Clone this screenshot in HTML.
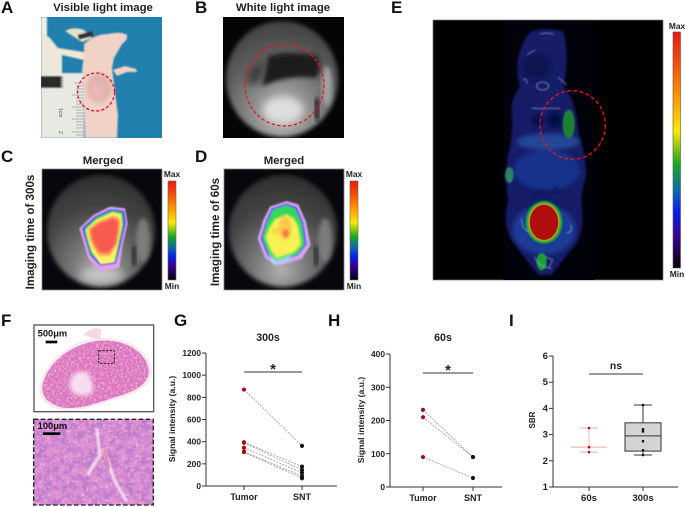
<!DOCTYPE html>
<html lang="en">
<head>
<meta charset="utf-8">
<title>Multi-panel imaging figure</title>
<style>
html,body{margin:0;padding:0;background:#fff;width:685px;height:507px;overflow:hidden}
svg{display:block;font-family:"Liberation Sans",sans-serif;filter:blur(.3px)}
.ltr{font-size:17px;font-weight:bold;fill:#111}
.ttl{font-size:11.4px;font-weight:bold;fill:#222;text-anchor:middle}
.rot{font-size:11.6px;font-weight:bold;fill:#222;text-anchor:middle}
.cb{font-size:8.4px;font-weight:bold;fill:#222;text-anchor:middle}
.scale{font-size:8.6px;font-weight:bold;fill:#111}
.tick{font-size:8px;font-weight:bold;fill:#222}
</style>
</head>
<body>
<svg id="figure" xmlns="http://www.w3.org/2000/svg" width="685" height="507" viewBox="0 0 685 507">
<defs>
  <filter id="b1" x="-10%" y="-10%" width="120%" height="120%"><feGaussianBlur stdDeviation="0.7"/></filter>
  <filter id="b2" x="-20%" y="-20%" width="140%" height="140%"><feGaussianBlur stdDeviation="2"/></filter>
  <filter id="b3" x="-30%" y="-30%" width="160%" height="160%"><feGaussianBlur stdDeviation="4"/></filter>
  <filter id="b4" x="-30%" y="-30%" width="160%" height="160%"><feGaussianBlur stdDeviation="6"/></filter>
  <linearGradient id="cbar" x1="0" y1="0" x2="0" y2="1">
    <stop offset="0" stop-color="#e81a10"/><stop offset=".12" stop-color="#f24a08"/>
    <stop offset=".28" stop-color="#ff9a00"/><stop offset=".42" stop-color="#ffe800"/>
    <stop offset=".56" stop-color="#18a820"/><stop offset=".67" stop-color="#0a6ca8"/>
    <stop offset=".76" stop-color="#0820f0"/><stop offset=".86" stop-color="#3a0090"/>
    <stop offset="1" stop-color="#040006"/>
  </linearGradient>
  <radialGradient id="disc" cx=".5" cy=".8" r=".85">
    <stop offset="0" stop-color="#c4c4c4"/><stop offset=".3" stop-color="#8e8e8e"/>
    <stop offset=".65" stop-color="#5a5a5a"/><stop offset="1" stop-color="#3c3c3c"/>
  </radialGradient>
  <radialGradient id="disc2" cx=".48" cy=".85" r=".85">
    <stop offset="0" stop-color="#b0b0b0"/><stop offset=".3" stop-color="#777"/>
    <stop offset=".65" stop-color="#454545"/><stop offset="1" stop-color="#2e2e2e"/>
  </radialGradient>
  <filter id="texture" x="0" y="0" width="100%" height="100%">
    <feTurbulence type="fractalNoise" baseFrequency="0.045" numOctaves="3" seed="7"/>
    <feColorMatrix values="0 0 0 0 .52  0 0 0 0 .2  0 0 0 0 .6  3.4 0 0 0 -1.25"/>
    <feGaussianBlur stdDeviation="1"/>
  </filter>
  <filter id="fine" x="0" y="0" width="100%" height="100%">
    <feTurbulence type="fractalNoise" baseFrequency="0.16" numOctaves="2" seed="3"/>
    <feColorMatrix values="0 0 0 0 .98  0 0 0 0 .86  0 0 0 0 .95  1.6 0 0 0 -.72"/>
  </filter>
  <filter id="fine2" x="0" y="0" width="100%" height="100%">
    <feTurbulence type="fractalNoise" baseFrequency="0.12" numOctaves="2" seed="11"/>
    <feColorMatrix values="0 0 0 0 .98  0 0 0 0 .86  0 0 0 0 .95  1.5 0 0 0 -.8"/>
  </filter>
  <clipPath id="clipA"><rect x="41" y="17" width="121" height="121"/></clipPath>
  <clipPath id="clipF1"><rect x="102" y="61" width="358" height="258"/></clipPath>
  <clipPath id="clipF2"><rect x="101" y="343" width="359" height="257"/></clipPath>
  <clipPath id="tissue"><path d="M130 230C150 170 210 120 290 108C370 98 440 140 446 195C448 240 400 262 340 278C280 300 210 322 165 300C130 285 122 260 130 230Z"/></clipPath>
</defs>

<!-- panel letters -->
<g>
  <text class="ltr" x="1" y="13">A</text>
  <text class="ltr" x="195" y="13">B</text>
  <text class="ltr" x="391" y="13">E</text>
  <text class="ltr" x="1" y="162">C</text>
  <text class="ltr" x="195" y="162">D</text>
  <text class="ltr" x="1" y="326">F</text>
  <text class="ltr" x="174" y="326">G</text>
  <text class="ltr" x="328" y="326">H</text>
  <text class="ltr" x="509" y="326">I</text>
</g>

<!-- titles -->
<text class="ttl" x="103" y="11">Visible light image</text>
<text class="ttl" x="283" y="11">White light image</text>
<text class="ttl" x="103" y="164">Merged</text>
<text class="ttl" x="284" y="164">Merged</text>
<text class="rot" transform="translate(34 232) rotate(-90)">Imaging time of 300s</text>
<text class="rot" transform="translate(219 232) rotate(-90)">Imaging time of 60s</text>

<!-- Panel A -->
<g clip-path="url(#clipA)">
  <rect x="41" y="17" width="121" height="121" fill="#2180ae"/>
  <g filter="url(#b1)">
    <rect x="41" y="17" width="6" height="60" fill="#f2efe6"/>
    <path d="M41 32L50 38L58 48L84 52L84 60L62 55L62 74L41 74Z" fill="#eee8d8"/>
    <path d="M65 31Q74 26 84 30L92 38L82 42Z" fill="#e8dfc8"/>
    <rect x="78" y="33" width="15" height="5" fill="#333" transform="rotate(-14 85 35)"/>
    <rect x="41" y="73" width="43" height="65" fill="#e9e9e4"/>
    <rect x="41" y="76" width="21" height="12" fill="#2a2a2a"/>
    <rect x="61" y="76" width="2" height="12" fill="#999"/>
    <path d="M84 44Q95 34 108 34Q120 31 127 35Q128 40 122 44L114 58L112 68L116 100L118 115L117 138L85 138L84 100L82 70L84 55Z" fill="#f0d3c6"/>
    <path d="M113 70L125 66L136 69L137 72L127 72L117 76Z" fill="#f0d3c6"/>
  </g>
  <ellipse cx="99" cy="88" rx="13" ry="15" fill="#e2b4ae" filter="url(#b2)"/>
  <ellipse cx="97" cy="90" rx="5" ry="6" fill="#ecb8bc" filter="url(#b2)"/>
  <g stroke="#777" stroke-width=".6">
    <path d="M74 83H84M76 86H84M76 89H84M76 92H84M72 95H84M76 98H84M76 101H84M76 104H84M72 107H84M76 110H84M76 113H84M76 116H84M72 119H84M76 122H84M76 125H84M76 128H84M72 132H84M76 135H84"/>
  </g>
  <text x="0" y="0" transform="translate(59 108) rotate(90)" font-size="5" fill="#555">1cm</text>
  <text x="0" y="0" transform="translate(59 131) rotate(90)" font-size="5" fill="#555">2</text>
  <ellipse cx="96" cy="92" rx="18.5" ry="19" fill="none" stroke="#e9141c" stroke-width="1.3" stroke-dasharray="3.2 2"/>
</g>

<!-- Panel B -->
<g>
  <rect x="223" y="17" width="121" height="121" fill="#050505"/>
  <ellipse cx="282" cy="79" rx="56" ry="58" fill="url(#disc)" filter="url(#b2)"/>
  <path d="M268 56Q290 50 318 56L320 70L316 78Q290 74 262 86Z" fill="#1a1a1a" filter="url(#b2)"/>
  <path d="M248 72Q256 62 266 58L260 84Q252 82 246 84Z" fill="#3c3c3c" filter="url(#b3)"/>
  <ellipse cx="283" cy="110" rx="20" ry="13" fill="#dedede" filter="url(#b3)"/>
  <ellipse cx="327" cy="86" rx="5" ry="20" fill="#a2a2a2" filter="url(#b2)"/>
  <rect x="315" y="98" width="4" height="22" fill="#151515" filter="url(#b2)"/>
  <ellipse cx="284.5" cy="85" rx="39.5" ry="41" fill="none" stroke="#e9141c" stroke-width="1.3" stroke-dasharray="3.4 2.2"/>
</g>

<!-- Panel C -->
<g>
  <rect x="42" y="169" width="120" height="121" fill="#08080c" stroke="#888" stroke-width=".8"/>
  <ellipse cx="101" cy="231" rx="54" ry="56" fill="url(#disc2)" filter="url(#b2)"/>
  <ellipse cx="143" cy="240" rx="7" ry="22" fill="#7c7c7c" filter="url(#b2)"/>
  <rect x="132" y="246" width="4" height="20" fill="#262626" filter="url(#b2)"/>
  <ellipse cx="102" cy="275" rx="22" ry="8" fill="#d0d0d0" opacity=".7" filter="url(#b3)"/>
  <g transform="translate(0 145) scale(.3333)">
    <g filter="url(#b2)">
      <path d="M330 185L375 190L383 235L368 300L358 368L300 378L265 340L250 290L238 250L280 210Z" fill="#e2a0f0"/>
      <path d="M332 192L372 197L378 235L362 300L348 356L300 362L270 330L256 285L246 250L284 215Z" fill="#4038ec"/>
      <path d="M335 196L367 201L372 238L358 298L346 352L302 356L272 325L260 285L252 252L288 218Z" fill="#30d060"/>
      <path d="M338 202L363 208L366 240L354 298L342 352L302 358L276 320L264 283L258 254L290 224Z" fill="#fff26a"/>
    </g>
    <path d="M340 212L358 220L360 245L350 296L330 332L298 332L280 305L270 280L266 252L294 230Z" fill="#ff9a4a" filter="url(#b3)"/>
    <path d="M340 220L354 230L354 250L346 296L326 322L300 322L285 298L276 278L274 254L298 236Z" fill="#f95a50" filter="url(#b3)"/>
  </g>
</g>
<g>
  <rect x="168" y="181" width="8" height="99" fill="url(#cbar)" stroke="#666" stroke-width=".6"/>
  <text class="cb" x="172" y="177">Max</text>
  <text class="cb" x="172" y="289">Min</text>
</g>

<!-- Panel D -->
<g>
  <rect x="224" y="169" width="120" height="121" fill="#08080c" stroke="#888" stroke-width=".8"/>
  <ellipse cx="283" cy="231" rx="54" ry="56" fill="url(#disc2)" filter="url(#b2)"/>
  <ellipse cx="325" cy="240" rx="7" ry="22" fill="#7c7c7c" filter="url(#b2)"/>
  <rect x="314" y="246" width="4" height="20" fill="#262626" filter="url(#b2)"/>
  <g transform="translate(0 145) scale(.3333)">
    <g filter="url(#b2)">
      <path d="M810 185L860 168L895 178L918 230L932 300L905 342L830 364L795 338L773 280L790 225Z" fill="#d4a0f2"/>
      <path d="M815 190L860 176L890 186L910 232L920 298L895 330L830 352L802 330L782 280L798 228Z" fill="#5a50f0"/>
      <path d="M820 193L860 181L885 190L905 234L914 298L892 328L830 348L806 326L788 278L802 230Z" fill="#30d858"/>
    </g>
    <path d="M825 222L860 208L882 220L895 245L904 298L884 322L830 340L812 318L796 276L810 245Z" fill="#f8f254" filter="url(#b3)"/>
    <path d="M802 322L830 344L880 328L860 350L820 358Z" fill="#a8f0e8" opacity=".75" filter="url(#b3)"/>
    <ellipse cx="855" cy="250" rx="20" ry="35" fill="#f8b848" opacity=".7" filter="url(#b3)"/>
    <ellipse cx="857" cy="265" rx="9" ry="12" fill="#f0683a" opacity=".85" filter="url(#b3)"/>
    <ellipse cx="825" cy="258" rx="10" ry="10" fill="#f8c040" opacity=".6" filter="url(#b3)"/>
  </g>
</g>
<g>
  <rect x="350" y="181" width="8" height="99" fill="url(#cbar)" stroke="#666" stroke-width=".6"/>
  <text class="cb" x="354" y="177">Max</text>
  <text class="cb" x="354" y="289">Min</text>
</g>

<!-- Panel E -->
<g>
  <rect x="433" y="20" width="230" height="260" fill="#000" stroke="#777" stroke-width=".7"/>
  <g transform="translate(420 0) scale(.3333)">
    <rect x="250" y="62" width="272" height="778" fill="#01020a"/>
    <path d="M330 95Q380 80 430 95Q450 170 430 260Q470 300 475 400Q500 470 498 530Q480 590 485 620Q495 680 470 730Q420 790 395 825L355 825Q310 770 275 720Q245 670 265 600Q250 520 270 440Q280 380 275 340Q270 300 300 260Q275 170 330 95Z" fill="#121f68" filter="url(#b3)"/>
    <g filter="url(#b4)">
      <ellipse cx="385" cy="425" rx="95" ry="24" fill="#264f9e" opacity=".85"/>
      <ellipse cx="380" cy="510" rx="100" ry="60" fill="#18318a"/>
      <ellipse cx="372" cy="690" rx="95" ry="75" fill="#1c3a94"/>
      <ellipse cx="352" cy="360" rx="14" ry="18" fill="#050a40"/>
      <ellipse cx="405" cy="360" rx="20" ry="22" fill="#050a40"/>
      <ellipse cx="358" cy="577" rx="18" ry="12" fill="#081258"/>
      <ellipse cx="408" cy="568" rx="14" ry="7" fill="#081258"/>
      <ellipse cx="350" cy="200" rx="45" ry="40" fill="#0d1850"/>
    </g>
    <g filter="url(#b2)">
      <ellipse cx="446" cy="372" rx="18" ry="44" fill="#1a8034"/>
      <ellipse cx="268" cy="525" rx="13" ry="24" fill="#2a8068"/>
      <ellipse cx="365" cy="785" rx="15" ry="26" fill="#1c9c36"/>
      <ellipse cx="372" cy="667" rx="55" ry="64" fill="#1eaa3c"/>
    </g>
    <ellipse cx="372" cy="667" rx="47" ry="57" fill="#c8b018" filter="url(#b2)"/>
    <ellipse cx="372" cy="667" rx="43" ry="53" fill="#b01010" filter="url(#b1)"/>
    <g fill="none" stroke="#a8c8f0" stroke-width="3" opacity=".6" filter="url(#b2)">
      <path d="M360 103Q380 95 400 103"/>
      <ellipse cx="368" cy="258" rx="18" ry="12"/>
      <path d="M310 240Q318 230 322 252M415 232L440 255"/>
      <path d="M305 655Q305 690 328 695M452 675Q460 695 440 700"/>
      <path d="M375 770L398 780L385 805M345 770Q350 800 395 805"/>
      <path d="M320 165L345 150M335 325H420"/>
    </g>
    <ellipse cx="458" cy="375" rx="98" ry="103" fill="none" stroke="#e9141c" stroke-width="4" stroke-dasharray="12 7"/>
  </g>
</g>
<g>
  <rect x="673" y="32" width="7.5" height="236" fill="url(#cbar)" stroke="#555" stroke-width=".6"/>
  <text class="cb" x="677" y="29">Max</text>
  <text class="cb" x="677" y="277">Min</text>
</g>

<!-- Panel F -->
<g transform="translate(0 305) scale(.3333)">
  <g>
    <rect x="102" y="60" width="359" height="260" fill="#fff" stroke="#555" stroke-width="4"/>
    <g clip-path="url(#clipF1)">
      <path d="M120 235C140 165 205 112 285 100C375 88 450 135 456 195C458 245 405 268 345 285C285 306 205 330 160 308C125 292 112 265 120 235Z" fill="#f8e8f0"/>
      <path d="M250 90Q280 60 305 75L300 105Z" fill="#f4d8e6"/>
      <path d="M130 230C150 170 210 120 290 108C370 98 440 140 446 195C448 240 400 262 340 278C280 300 210 322 165 300C130 285 122 260 130 230Z" fill="#dc74bc"/>
      <g clip-path="url(#tissue)"><rect x="102" y="60" width="359" height="260" filter="url(#fine)"/></g>
      <path d="M215 215Q235 190 265 205Q285 240 275 265Q240 280 215 260Q205 240 215 215Z" fill="#f7dff0" filter="url(#b4)"/>
      <rect x="296" y="137" width="47" height="38" fill="none" stroke="#222" stroke-width="3" stroke-dasharray="7 4"/>
    </g>
    <text class="scale" style="font-size:28px" x="113" y="95">500μm</text>
    <rect x="137" y="107" width="35" height="8" fill="#000"/>
  </g>
  <g>
    <rect x="101" y="343" width="359" height="257" fill="#e090d2"/>
    <g clip-path="url(#clipF2)">
      <rect x="101" y="343" width="359" height="257" filter="url(#texture)"/>
      <rect x="101" y="343" width="359" height="257" filter="url(#fine2)"/>
      <path d="M290 370L300 450L262 510M310 430L345 530L380 590" stroke="#f6e2f0" stroke-width="10" fill="none" opacity=".85" filter="url(#b2)"/>
      <path d="M312 432L328 490" stroke="#e56a9c" stroke-width="7" opacity=".85" filter="url(#b2)"/>
    </g>
    <rect x="101" y="343" width="359" height="257" fill="none" stroke="#222" stroke-width="4" stroke-dasharray="14 7"/>
    <text class="scale" style="font-size:28px" x="113" y="372">100μm</text>
    <rect x="129" y="382" width="52" height="8" fill="#000"/>
  </g>
</g>

<g id="chart-g"></g>
<g id="chart-h"></g>
<g id="chart-i"></g>
</svg>

<script>
// Panel G
var gCategories = ['Tumor', 'SNT'];
var gTumor = [870, 395, 390, 345, 310, 305];
var gSnt = [362, 175, 145, 120, 90, 70];
var gTicks = [0, 200, 400, 600, 800, 1000, 1200];
// Panel H
var hCategories = ['Tumor', 'SNT'];
var hTumor = [232, 210, 90];
var hSnt = [90, 90, 27];
var hTicks = [0, 100, 200, 300, 400];
// Panel I
var iCategories = ['60s', '300s'];
var iTicks = [1, 2, 3, 4, 5, 6];
var i60s = [3.25, 2.52, 2.33];
var i60sSummary = [2.33, 2.52, 3.25];
var i300s = [4.13, 3.2, 3.12, 2.75, 2.4, 2.22];
var i300sBox = [2.22, 2.37, 2.95, 3.45, 4.13];

var NS = 'http://www.w3.org/2000/svg';
function add(parent, tag, attrs, text) {
  var n = document.createElementNS(NS, tag);
  for (var k in attrs) { n.setAttribute(k, attrs[k]); }
  if (text !== undefined) { n.textContent = text; }
  parent.appendChild(n);
  return n;
}
function linear(d0, d1, r0, r1) {
  return function (v) { return r0 + (v - d0) * (r1 - r0) / (d1 - d0); };
}
function drawAxes(g, cfg) {
  var yAxis = add(g, 'line', {x1: cfg.x0, x2: cfg.x0, y1: cfg.y1, y2: cfg.y0, stroke: '#333', 'stroke-width': 1});
  
  
  var xAxis = add(g, 'line', {x1: cfg.x0 - 4, x2: cfg.xEnd, y1: cfg.y0, y2: cfg.y0, stroke: '#333', 'stroke-width': 1});
  
  
  cfg.ticks.forEach(function (t) {
    var tm = add(g, 'line', {x1: cfg.x0 - 4, x2: cfg.x0, y1: cfg.yScale(t), y2: cfg.yScale(t), stroke: '#333', 'stroke-width': 1});
    
    
    var lb = add(g, 'text', {x: cfg.x0 - 5, y: cfg.yScale(t) + 3, 'text-anchor': 'end', 'class': 'tick', style: 'font-size:' + cfg.yFont + 'px'}, String(t));
    
    
  });
  cfg.categories.forEach(function (c, i) {
    var tm = add(g, 'line', {x1: cfg.xScale(i), x2: cfg.xScale(i), y1: cfg.y0, y2: cfg.y0 + 4, stroke: '#333', 'stroke-width': 1});
    
    
    var lb = add(g, 'text', {x: cfg.xScale(i), y: cfg.y0 + 14, 'text-anchor': 'middle', 'class': 'tick', style: 'font-size:' + cfg.xFont + 'px'}, c);
    
    
  });
  var yt = add(g, 'text', {transform: 'translate(' + cfg.yTitleX + ' ' + cfg.yTitleY + ') rotate(-90)', 'text-anchor': 'middle', 'class': 'tick', style: 'font-size:' + cfg.yTitleFont + 'px'}, cfg.yTitle);
  
  
  var bar = add(g, 'line', {x1: cfg.xScale(0), x2: cfg.xScale(1), y1: cfg.sigY, y2: cfg.sigY, stroke: '#333', 'stroke-width': 1});
  
  
  var star = add(g, 'text', {x: (cfg.xScale(0) + cfg.xScale(1)) / 2, y: cfg.sigY - cfg.sigOffset, 'text-anchor': 'middle', style: 'font-size:' + cfg.sigFont + 'px;font-weight:bold;fill:#222'}, cfg.sigText);
  
  
  if (cfg.title) {
    var tt = add(g, 'text', {x: cfg.titleX, y: 341, 'text-anchor': 'middle', style: 'font-size:10.6px;font-weight:bold;fill:#222'}, cfg.title);
    
    
  }
}
function drawPaired(g, cfg, before, after) {
  before.forEach(function (v, i) {
    var ln = add(g, 'line', {x1: cfg.xScale(0), x2: cfg.xScale(1), y1: cfg.yScale(v), y2: cfg.yScale(after[i]), stroke: '#999', 'stroke-width': 0.8, 'stroke-dasharray': '2 1.2'});
    
    
  });
  before.forEach(function (v) {
    var p = add(g, 'circle', {cx: cfg.xScale(0), cy: cfg.yScale(v), r: 2.1, fill: '#a80c14'});
    
    
  });
  after.forEach(function (v) {
    var p = add(g, 'circle', {cx: cfg.xScale(1), cy: cfg.yScale(v), r: 2.1, fill: '#111'});
    
    
  });
}

// Chart G
var gEl = document.getElementById('chart-g');
var gCfg = {
  x0: 206, y0: 486, y1: 353, xEnd: 337,
  yScale: linear(0, 1200, 486, 353),
  xScale: linear(0, 1, 244, 302),
  ticks: gTicks, categories: gCategories,
  yFont: 8.4, xFont: 9,
  yTitle: 'Signal intensity  (a.u.)', yTitleX: 175, yTitleY: 419, yTitleFont: 8.6,
  sigY: 372, sigOffset: -2, sigFont: 15, sigText: '*', title: '300s', titleX: 268
};
drawAxes(gEl, gCfg);
drawPaired(gEl, gCfg, gTumor, gSnt);

// Chart H
var hEl = document.getElementById('chart-h');
var hCfg = {
  x0: 390, y0: 487, y1: 354, xEnd: 502,
  yScale: linear(0, 400, 487, 354),
  xScale: linear(0, 1, 423, 473),
  ticks: hTicks, categories: hCategories,
  yFont: 8.4, xFont: 9,
  yTitle: 'Signal intensity  (a.u.)', yTitleX: 364, yTitleY: 420, yTitleFont: 8.6,
  sigY: 373, sigOffset: -2, sigFont: 15, sigText: '*', title: '60s', titleX: 443
};
drawAxes(hEl, hCfg);
drawPaired(hEl, hCfg, hTumor, hSnt);

// Chart I
var iEl = document.getElementById('chart-i');
var iCfg = {
  x0: 553, y0: 487, y1: 356, xEnd: 678,
  yScale: linear(1, 6, 487, 356),
  xScale: linear(0, 1, 589, 643),
  ticks: iTicks, categories: iCategories,
  yFont: 9.6, xFont: 9.6,
  yTitle: 'SBR', yTitleX: 535, yTitleY: 420, yTitleFont: 8,
  sigY: 374, sigOffset: 5, sigFont: 10.4, sigText: 'ns', title: '', titleX: 0
};
drawAxes(iEl, iCfg);

var xA = iCfg.xScale(0), xB = iCfg.xScale(1), yS = iCfg.yScale;
var err = add(iEl, 'line', {x1: xA, x2: xA, y1: yS(i60sSummary[0]), y2: yS(i60sSummary[2]), stroke: '#f5b8b8', 'stroke-width': 1});


[0, 2].forEach(function (k) {
  var cap = add(iEl, 'line', {x1: xA - 9, x2: xA + 9, y1: yS(i60sSummary[k]), y2: yS(i60sSummary[k]), stroke: '#f5a8a8', 'stroke-width': 1});
  
  
});
var mid = add(iEl, 'line', {x1: xA - 18, x2: xA + 18, y1: yS(i60sSummary[1]), y2: yS(i60sSummary[1]), stroke: '#f5a8a8', 'stroke-width': 1});



var wh = add(iEl, 'line', {x1: xB, x2: xB, y1: yS(i300sBox[0]), y2: yS(i300sBox[4]), stroke: '#333', 'stroke-width': 1});


[0, 4].forEach(function (k) {
  var cap = add(iEl, 'line', {x1: xB - 9, x2: xB + 9, y1: yS(i300sBox[k]), y2: yS(i300sBox[k]), stroke: '#333', 'stroke-width': 1});
  
  
});
var box = add(iEl, 'rect', {x: xB - 18, width: 36, y: yS(i300sBox[3]), height: yS(i300sBox[1]) - yS(i300sBox[3]), fill: '#d4d4d4', stroke: '#333', 'stroke-width': 1});


var med = add(iEl, 'line', {x1: xB - 18, x2: xB + 18, y1: yS(i300sBox[2]), y2: yS(i300sBox[2]), stroke: '#333', 'stroke-width': 1});


i60s.forEach(function (v) {
  var p = add(iEl, 'circle', {cx: xA, cy: yS(v), r: 1.3, fill: '#a80c14'});
  
  
});
i300s.forEach(function (v) {
  var p = add(iEl, 'circle', {cx: xB, cy: yS(v), r: 1.3, fill: '#111'});
  
  
});
</script>
</body>
</html>
